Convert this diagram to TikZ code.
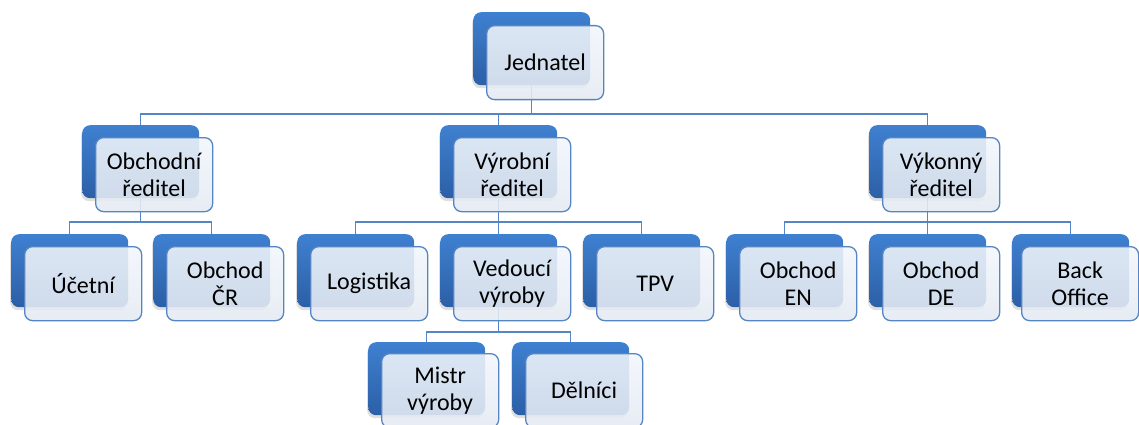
\documentclass[tikz,border=0pt]{standalone}
\usepackage{fontspec}
\setmainfont{Carlito}
\usetikzlibrary{shadows,backgrounds}

\definecolor{bluetop}{HTML}{3F80D0}
\definecolor{bluebot}{HTML}{2C5FA6}
\definecolor{frtop}{HTML}{F2F6FB}
\definecolor{frbot}{HTML}{E4EAF3}
\definecolor{edgeblue}{HTML}{5585C2}

\tikzset{
  backbox/.style={rectangle, rounded corners=8pt, minimum width=117pt,
    minimum height=73pt, inner sep=0pt, anchor=north west,
    top color=bluetop, bottom color=bluebot, draw=none,
    drop shadow={shadow xshift=-1pt, shadow yshift=-3pt, opacity=0.25}},
  frontbox/.style={rectangle, rounded corners=8pt, minimum width=117pt,
    minimum height=74pt, inner sep=2pt, anchor=north west,
    top color=frtop, bottom color=frbot, fill opacity=0.88, text opacity=1,
    draw=edgeblue, line width=1.3pt, align=center, text=black,
    font=\fontsize{24}{27.5}\selectfont},
  link/.style={draw=edgeblue, line width=1.3pt}
}

\begin{document}
\begin{tikzpicture}[x=1pt,y=-1pt]
\useasboundingbox (0,0) rectangle (1139,425);

% level 0
\node[backbox] (jb) at (473,12) {};
\node[frontbox] (j) at (486,25) {Jednatel};

% level 1
\node[backbox] (ob) at (82,125) {};
\node[frontbox] (o) at (95,137) {Obchodní\\ředitel};
\node[backbox] (vb) at (440,125) {};
\node[frontbox] (v) at (453,137) {Výrobní\\ředitel};
\node[backbox] (kb) at (869,125) {};
\node[frontbox] (k) at (882,137) {Výkonný\\ředitel};

% level 2
\node[backbox] (ub) at (11,234) {};
\node[frontbox] (u) at (24,246) {Účetní};
\node[backbox] (cb) at (153,234) {};
\node[frontbox] (c) at (166,246) {Obchod\\ČR};
\node[backbox] (lb) at (297,234) {};
\node[frontbox] (l) at (310,246) {Logistika};
\node[backbox] (db) at (440,234) {};
\node[frontbox] (d) at (453,246) {Vedoucí\\výroby};
\node[backbox] (tb) at (583,234) {};
\node[frontbox] (t) at (596,246) {TPV};
\node[backbox] (eb) at (726,234) {};
\node[frontbox] (e) at (739,246) {Obchod\\EN};
\node[backbox] (gb) at (869,234) {};
\node[frontbox] (g) at (882,246) {Obchod\\DE};
\node[backbox] (fb) at (1012,234) {};
\node[frontbox] (f) at (1021,246) {Back\\Office};

% level 3
\node[backbox] (mb) at (368,342) {};
\node[frontbox] (m) at (381,353) {Mistr\\výroby};
\node[backbox] (nb) at (512,342) {};
\node[frontbox] (n) at (525,353) {Dělníci};

% connectors, drawn behind the boxes
\begin{scope}[on background layer]
  \foreach \p/\c in {jb/ob, jb/vb, jb/kb}
    \draw[link] (\p.south) |- ([yshift=11pt]\c.north) -- (\c.north);
  \foreach \p/\c in {ob/ub, ob/cb, vb/lb, vb/db, vb/tb, kb/eb, kb/gb, kb/fb}
    \draw[link] (\p.south) |- ([yshift=12pt]\c.north) -- (\c.north);
  \foreach \p/\c in {db/mb, db/nb}
    \draw[link] (\p.south) |- ([yshift=10pt]\c.north) -- (\c.north);
\end{scope}
\end{tikzpicture}
\end{document}
